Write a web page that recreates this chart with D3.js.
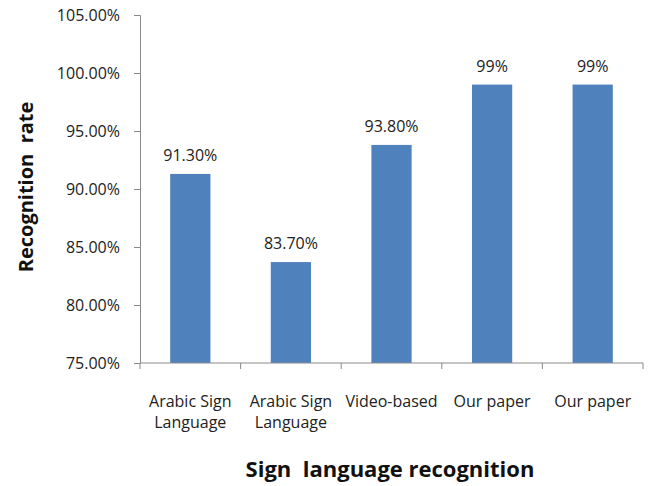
<!DOCTYPE html>
<html>
<head>
<meta charset="utf-8">
<script src="https://cdn.jsdelivr.net/npm/d3@7"></script>
<style>
  body { margin: 0; background: #fff; }
  text { font-family: "Open Sans", "Noto Sans", sans-serif; }
</style>
</head>
<body>
<svg id="chart" width="651" height="486"></svg>
<script>
// data
var categories = ["Arabic Sign|Language", "Arabic Sign |Language", "Video-based", "Our paper", "Our paper "];
var rates = [91.3, 83.7, 93.8, 99, 99];
var valueLabels = ["91.30%", "83.70%", "93.80%", "99%", "99%"];
var yTicks = [75, 80, 85, 90, 95, 100, 105];

var margin = {top: 15, right: 8, bottom: 123, left: 140};
var width = 651 - margin.left - margin.right;
var height = 486 - margin.top - margin.bottom;

var svg = d3.select("#chart")
  .append("g")
  .attr("transform", "translate(" + margin.left + "," + margin.top + ")");

var x = d3.scaleBand()
  .domain(categories)
  .range([0, 503])
  .paddingInner(0.6)
  .paddingOuter(0.3);

var y = d3.scaleLinear()
  .domain([75, 105])
  .range([height, 0]);

var axisColor = "#8a8a8a";

// bars
svg.append("g").selectAll("rect")
  .data(rates)
  .join("rect")
    .attr("x", (d, i) => x(categories[i]))
    .attr("y", d => y(d))
    .attr("width", x.bandwidth())
    .attr("height", d => height - y(d))
    .attr("fill", "#4f81bd");

// value labels
svg.append("g").selectAll("text")
  .data(rates)
  .join("text")
    .attr("x", (d, i) => x(categories[i]) + x.bandwidth() / 2)
    .attr("y", d => y(d) - 13)
    .attr("text-anchor", "middle")
    .attr("font-size", 16)
    .attr("fill", "#222")
    .text((d, i) => valueLabels[i]);

// y axis
var gY = svg.append("g")
  .call(d3.axisLeft(y).tickValues(yTicks).tickSize(6).tickPadding(14)
    .tickFormat(d => d.toFixed(2) + "%"));
gY.selectAll("path, line").attr("stroke", axisColor);
gY.selectAll("text").attr("font-size", 16).attr("fill", "#222")
  .attr("font-family", "'Open Sans', sans-serif");

// x axis: boundary ticks between categories
var gX = svg.append("g").attr("transform", "translate(0," + height + ")");
gX.append("line")
  .attr("x1", 0).attr("x2", 503)
  .attr("stroke", axisColor);
var bounds = [0].concat(categories.map(c => x(c) + x.bandwidth() / 2 + x.step() / 2));
gX.selectAll("line.tick")
  .data(bounds)
  .join("line")
    .attr("class", "tick")
    .attr("x1", d => d).attr("x2", d => d)
    .attr("y1", 0).attr("y2", 6)
    .attr("stroke", axisColor);

gX.selectAll("text.cat")
  .data(categories)
  .join("text")
    .attr("class", "cat")
    .attr("x", d => x(d) + x.bandwidth() / 2)
    .attr("y", 44)
    .attr("text-anchor", "middle")
    .attr("font-size", 16)
    .attr("fill", "#222")
    .each(function (d) {
      var parts = d.split("|");
      var t = d3.select(this);
      parts.forEach((p, i) => {
        t.append("tspan")
          .attr("x", x(d) + x.bandwidth() / 2)
          .attr("dy", i === 0 ? 0 : 21)
          .text(p.trim());
      });
    });

// axis titles
svg.append("text")
  .attr("x", 390 - margin.left)
  .attr("y", 477 - margin.top)
  .attr("text-anchor", "middle")
  .attr("font-size", 22)
  .attr("font-weight", "bold")
  .attr("fill", "#111")
  .style("white-space", "pre")
  .text("Sign  language recognition");

svg.append("text")
  .attr("transform", "translate(" + (33 - margin.left) + "," + (187 - margin.top) + ") rotate(-90)")
  .attr("text-anchor", "middle")
  .attr("font-size", 20)
  .attr("font-weight", "bold")
  .attr("fill", "#111")
  .style("white-space", "pre")
  .text("Recognition  rate");
</script>
</body>
</html>
